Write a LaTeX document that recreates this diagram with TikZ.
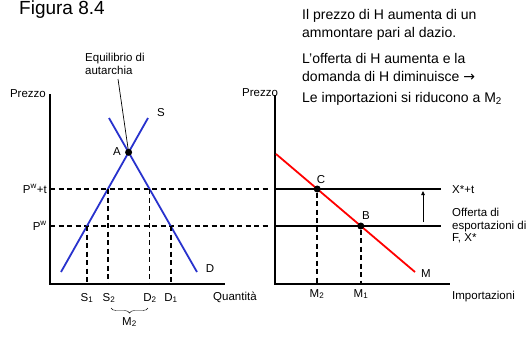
\documentclass[tikz,border=0pt]{standalone}
\usepackage{fontspec}
\setmainfont{Liberation Sans}
\newfontfamily\arrowfont{DejaVu Sans}
\usetikzlibrary{arrows.meta,calc,decorations.pathreplacing}

\definecolor{curveblue}{RGB}{40,50,205}

\begin{document}
\begin{tikzpicture}[
  x=1pt, y=-1pt,
  >=Stealth,
  every node/.style={font=\fontsize{11.5}{12.5}\selectfont, inner sep=0pt},
  axis/.style={line width=2.4pt},
  supply/.style={line width=1.8pt,curveblue},
  imports/.style={line width=1.8pt,red},
  guide/.style={line width=1.6pt,dash pattern=on 5pt off 3.5pt},
  level/.style={line width=2pt},
  dot/.style={circle,fill=black,minimum size=7pt,inner sep=0pt},
  note/.style={font=\fontsize{14}{17.5}\selectfont,align=left,anchor=base west}
]
\useasboundingbox (0,0) rectangle (527,338);

% Title and comments (base = last line)
\node[font=\fontsize{19}{22}\selectfont,anchor=base west] (title) at (19,14) {Figura 8.4};
\node[note] (txtA) at (302,37) {Il prezzo di H aumenta di un\\ammontare pari al dazio.};
\node[note] (txtB) at (302,81) {L'offerta di H aumenta e la\\domanda di H diminuisce {\arrowfont→}};
\node[note] (txtC) at (302,102) {Le importazioni si riducono a M\textsubscript{2}};

% ------------------------------------------------------------
% Home market: supply and demand of H
% ------------------------------------------------------------
\begin{scope}
  \coordinate (O1) at (50,284);
  \coordinate (top1) at (50,94);
  \coordinate (end1) at (225,284);
  \draw[axis] (top1) -- (O1) -- (end1);
  \node[anchor=east] (prezzoL) at (46,94) {Prezzo};
  \node[anchor=west] (quant) at (213,297) {Quantità};

  % Price lines
  \coordinate (pwtL) at (50,189);  \coordinate (pwtR) at (268,189);
  \coordinate (pwL) at (50,226);   \coordinate (pwR) at (268,226);
  \draw[guide] (pwtL) -- (pwtR);
  \draw[guide] (pwL) -- (pwR);
  \node[anchor=east] (pwtlab) at (47,189) {P\textsuperscript{w}+t};
  \node[anchor=east] (pwlab) at (47,226) {P\textsuperscript{w}};

  % Curves
  \coordinate (Slo) at (61,272);  \coordinate (Shi) at (148,118);
  \coordinate (Dhi) at (109,118); \coordinate (Dlo) at (197,272);
  \draw[supply] (Slo) -- (Shi);
  \draw[supply] (Dhi) -- (Dlo);
  \node (Slab) at (161,113) {S};
  \node (Dlab) at (210,269) {D};

  % Quantities
  \coordinate (s1) at (87,226);   \coordinate (s2) at (108,189);
  \coordinate (d2) at (149.6,189); \coordinate (d1) at (170.7,226);
  \foreach \q in {s1,s2,d2,d1}
    \draw[guide] (\q) -- (\q |- O1);
  \node (s1lab) at (87,298) {S\textsubscript{1}};
  \node (s2lab) at (109,298) {S\textsubscript{2}};
  \node (d2lab) at (150,298) {D\textsubscript{2}};
  \node (d1lab) at (171,298) {D\textsubscript{1}};
  \draw[decorate,decoration={brace,mirror,amplitude=5pt}]
    (111,308) -- (148,308);
  \node (m2brace) at (129.5,322) {M\textsubscript{2}};

  % Autarky equilibrium
  \node[dot] (A) at (128.6,152.3) {};
  \node (Alab) at (117,152) {A};
  \node[align=left,anchor=north west] (autarchia) at (85,53)
    {Equilibrio di\\autarchia};
  \coordinate (lead) at (118,79);
  \draw[line width=0.7pt] (lead) -- (A.center);
\end{scope}

% ------------------------------------------------------------
% Import market of H
% ------------------------------------------------------------
\begin{scope}
  \coordinate (O2) at (275,284);
  \coordinate (top2) at (275,95);
  \coordinate (end2) at (450,284);
  \node (prezzoR) at (260,93) {Prezzo};
  \draw[axis] (top2) -- (O2) -- (end2);
  \node[anchor=west] (imp) at (452,297) {Importazioni};

  % Export supply of F, before and after the tariff
  \coordinate (xtL) at (275,189); \coordinate (xtR) at (441,189);
  \coordinate (xL) at (275,226);  \coordinate (xR) at (441,226);
  \draw[level] (xtL) -- (xtR);
  \draw[level] (xL) -- (xR);
  \node[anchor=west] (xtlab) at (452,190) {X*+t};
  \node[align=left,anchor=north west] (xlab) at (452,208)
    {Offerta di\\esportazioni di\\F, X*};
  \coordinate (arrLo) at (423,222); \coordinate (arrHi) at (423,191);
  \draw[line width=0.8pt,-{Triangle[length=4pt,width=3.5pt]}] (arrLo) -- (arrHi);

  % Import demand
  \coordinate (Mhi) at (276,154); \coordinate (Mlo) at (415,272);
  \draw[imports] (Mhi) -- (Mlo);
  \node (Mlab) at (426,274) {M};

  \node[dot] (C) at (317.2,189) {};
  \node[dot] (B) at (360.8,226) {};
  \node (Clab) at (321,180) {C};
  \node (Blab) at (366,216) {B};
  \draw[guide] (C) -- (C |- O2);
  \draw[guide] (B) -- (B |- O2);
  \node (m2lab) at (317,294) {M\textsubscript{2}};
  \node (m1lab) at (361,294) {M\textsubscript{1}};
\end{scope}

\end{tikzpicture}
\end{document}
